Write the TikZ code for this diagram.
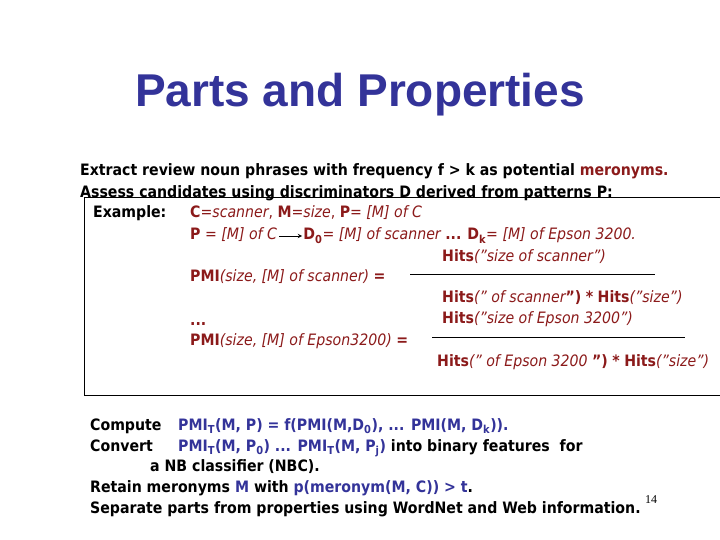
\documentclass[tikz,border=0pt]{standalone}
\usepackage{fontspec}
\setmainfont{DejaVu Sans Condensed}
\newfontfamily\titlefont{Liberation Sans}
\newfontfamily\serifnum{Liberation Serif}
\definecolor{dred}{HTML}{8B1A1A}
\definecolor{tblue}{HTML}{333399}
\newcommand{\rb}[1]{\textcolor{dred}{\bfseries #1}}
\newcommand{\ri}[1]{\textcolor{dred}{\itshape #1}}
\newcommand{\bb}[1]{\textcolor{tblue}{\bfseries #1}}
\begin{document}
\begin{tikzpicture}[x=1pt,y=-1pt,
  txt/.style={anchor=west,inner sep=0pt,text height=11pt,text depth=3pt,font=\fontsize{15.7}{17}\selectfont\bfseries},
  rtxt/.style={txt,text=dred,font=\fontsize{15.7}{17}\selectfont},
  frac/.style={draw=black,line width=0.6pt}]
\useasboundingbox (0,0) rectangle (720,540);
\node[anchor=center,inner sep=0pt,text=tblue,font=\fontsize{46}{50}\selectfont\titlefont\bfseries] (title) at (360,95) {Parts and Properties};
\node[txt] (l1) at (80,172) {Extract review noun phrases with frequency f > k as potential \textcolor{dred}{meronyms.}};
\node[txt] (l2) at (80,193) {Assess candidates using discriminators D derived from patterns P:};
\draw[line width=0.6pt] (730,197) -- (84,197) -- (84,395) -- (730,395);
\node[txt] (ex) at (93,214) {Example:};
\node[rtxt] (c1) at (190,214) {\rb{C}=\ri{scanner}, \rb{M}=\ri{size}, \rb{P}= \ri{[M] of C}};
\node[rtxt] (c2) at (190,236) {\rb{P} = \ri{[M] of C}};
\node[rtxt,anchor=west] (c3) at ([xshift=26pt]c2.east) {\rb{D\textsubscript{0}}= \ri{[M] of scanner} \rb{...} \rb{D\textsubscript{k}}= \ri{[M] of Epson 3200.}};
\draw[-stealth,line width=1pt] ([xshift=2pt]c2.east) -- ([xshift=-1pt]c3.west);
\node[rtxt] (h1) at (442,257) {\rb{Hits}\ri{("size of scanner")}};
\node[rtxt] (p1) at (190,277) {\rb{PMI}\ri{(size, [M] of scanner)} \rb{=}};
\coordinate (f1a) at (410,274); \coordinate (f1b) at (655,274);
\draw[frac] (f1a) -- (f1b);
\node[rtxt] (h2) at (442,298) {\rb{Hits}\ri{(" of scanner}\rb{")} \rb{*} \rb{Hits}\ri{("size")}};
\node[rtxt] (dots) at (190,321) {\rb{...}};
\node[rtxt] (h3) at (442,319) {\rb{Hits}\ri{("size of Epson 3200")}};
\node[rtxt] (p2) at (190,341) {\rb{PMI}\ri{(size, [M] of Epson3200)} \rb{=}};
\coordinate (f2a) at (432,337); \coordinate (f2b) at (685,337);
\draw[frac] (f2a) -- (f2b);
\node[rtxt] (h4) at (437,362) {\rb{Hits}\ri{(" of Epson 3200 }\rb{")} \rb{*} \rb{Hits}\ri{("size")}};
\node[txt] (b1) at (90,426) {Compute};
\node[txt] (b1b) at (178,426) {\bb{PMI\textsubscript{T}(M, P) = f(PMI(M,D\textsubscript{0}), ... PMI(M, D\textsubscript{k})).}};
\node[txt] (b2) at (90,447) {Convert};
\node[txt] (b2b) at (178,447) {\bb{PMI\textsubscript{T}(M, P\textsubscript{0}) ... PMI\textsubscript{T}(M, P\textsubscript{j})} into binary features\ \ for};
\node[txt] (b3) at (150,467) {a NB classifier (NBC).};
\node[txt] (b4) at (90,488) {Retain meronyms \bb{M} with \bb{p(meronym(M, C)) > t}.};
\node[txt] (b5) at (90,509) {Separate parts from properties using WordNet and Web information.};
\node[anchor=west,inner sep=0pt,font=\fontsize{12}{12}\serifnum] (pg) at (645,500) {14};
\end{tikzpicture}
\end{document}
